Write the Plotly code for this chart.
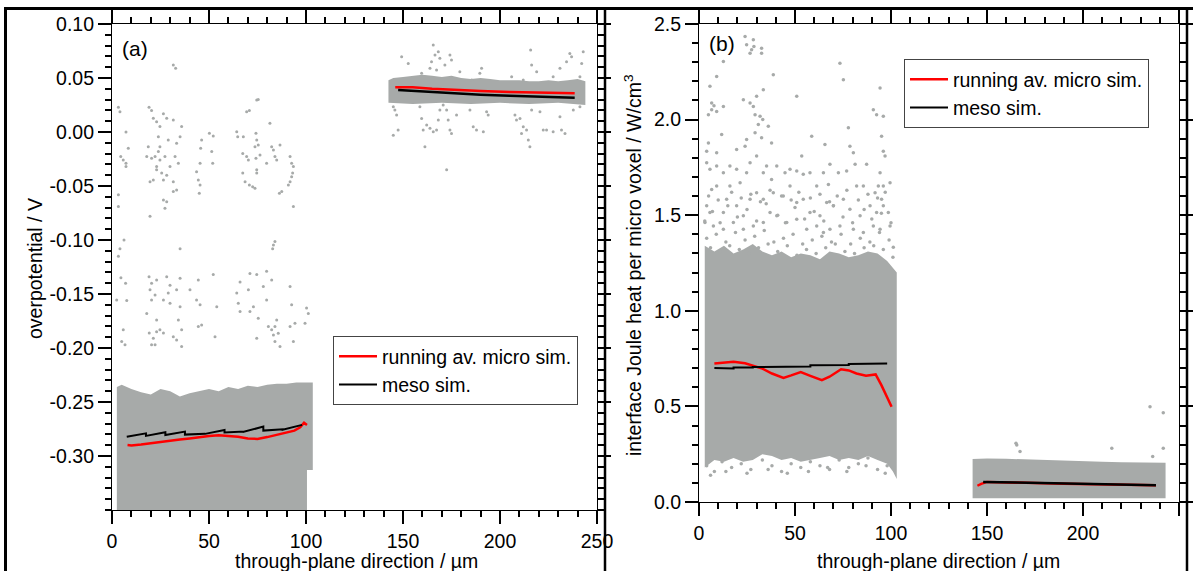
import plotly.graph_objects as go

FONT = "Liberation Sans, Arial, Helvetica, sans-serif"
GRAY = "rgb(167,170,169)"
RED = "rgb(255,0,0)"

# ---------------- panel (a): overpotential ----------------
a1_top_x = [2.5, 5, 10, 15, 20, 25, 30, 35, 40, 45, 50, 55, 60, 65, 70, 75, 80, 85, 90, 95, 100, 103.5]
a1_top_y = [-0.236, -0.234, -0.238, -0.241, -0.243, -0.238, -0.240, -0.245, -0.242, -0.240, -0.238, -0.240, -0.236,
            -0.238, -0.235, -0.236, -0.234, -0.233, -0.233, -0.232, -0.232, -0.232]
a1_bot_x = [103.5, 100.5, 100.5, 97, 2.5]
a1_bot_y = [-0.313, -0.313, -0.36, -0.36, -0.36]
a2_top_x = [142.5, 145, 150, 155, 160, 165, 170, 175, 180, 185, 190, 195, 200, 205, 210, 215, 220, 225, 230, 235, 240, 244]
a2_top_y = [0.048, 0.050, 0.051, 0.052, 0.053, 0.052, 0.051, 0.052, 0.050, 0.049, 0.050, 0.049, 0.048, 0.048, 0.048,
            0.047, 0.047, 0.048, 0.047, 0.048, 0.049, 0.047]
a2_bot_x = [244, 230, 215, 200, 185, 170, 155, 142.5]
a2_bot_y = [0.025, 0.027, 0.026, 0.027, 0.026, 0.027, 0.026, 0.027]

a_pts_x = [3.3, 4.1, 7.2, 4.5, 5.8, 7.2, 8.4, 7.2, 3.3, 3.3, 4.1, 6.2, 3.3, 4.6, 7.0,
           19.1, 20.4, 21.3, 23.0, 23.9, 24.7, 26.5, 28.2, 29.0, 27.3, 24.7, 23.0, 21.3, 19.6, 18.7, 17.9, 20.4, 22.2,
           25.6, 26.5, 28.2, 29.9, 31.6, 32.5, 33.3, 34.2, 35.1, 35.9, 31.6, 33.3, 31.6, 28.2, 26.5, 27.3, 19.6, 23.0,
           24.7, 23.9, 31.6, 32.8, 35.1,
           43.6, 44.5, 45.4, 45.0, 45.4, 46.2, 45.7, 50.2, 52.2, 51.4, 51.9,
           64.3, 64.8, 67.7, 67.4, 69.4, 70.3, 67.4, 68.6, 70.8, 72.5, 73.7, 69.4, 70.8, 74.6, 75.4, 74.2, 74.6, 75.4,
           73.7, 74.2, 74.6, 74.6, 76.3, 79.7, 81.4, 82.3, 83.2, 84.0, 84.9, 86.6, 87.5, 86.3, 91.8, 92.6, 93.5, 93.1,
           92.6, 91.8, 90.9, 93.5, 84.0, 83.2, 82.8,
           2.4, 7.6, 5.8, 6.7, 5.0, 17.9, 19.6, 20.4, 22.2, 23.0, 19.2, 21.3, 23.0, 24.7, 26.5, 20.4, 22.2, 26.5, 29.0,
           29.9, 33.3, 35.1, 34.2, 35.9, 31.6, 33.3, 35.9, 40.2, 43.6, 45.4, 44.5, 46.2, 53.1, 54.0, 64.3, 65.1, 66.0,
           70.3, 71.1, 72.9, 75.4, 74.6, 78.0, 79.7, 80.6, 82.3, 83.2, 84.0, 84.9, 84.0, 85.7, 86.6, 91.8, 92.6, 93.5,
           94.3, 100.3, 101.2, 99.5,
           19.1, 20.4, 23.0, 28.2, 29.9, 35.1, 44.5, 52.2, 66.0, 71.1, 74.6, 79.7, 82.3, 91.8,
           165.6, 164.7, 166.5, 169.0, 168.2, 171.6, 174.2, 175.0, 167.3, 159.6, 152.7, 149.3, 163.9, 189.6, 190.5,
           206.0, 215.8, 216.3, 218.9, 230.9, 234.3, 236.9, 236.0, 242.1, 242.9, 241.2, 227.4, 212.0, 179.3, 185.4,
           145.0, 145.8, 146.7, 147.5, 145.0, 158.7, 159.6, 160.4, 162.2, 163.9, 165.6, 167.3, 168.2, 169.0, 170.7,
           172.5, 174.2, 175.0, 173.3, 177.6, 184.5, 186.2, 187.9, 191.4, 193.1, 193.9, 207.7, 208.5, 210.3, 212.0,
           213.7, 214.6, 215.4, 216.3, 220.6, 222.3, 224.0, 227.4, 230.9, 231.7, 233.5, 237.8, 241.2, 161.3, 172.5,
           211.1]
a_pts_y = [0.023, 0.0188, 0.0, -0.0228, -0.026, -0.029, -0.015, -0.032, -0.058, -0.069, -0.108, -0.100, -0.115,
           -0.135, -0.140,
           0.023, 0.020, 0.0127, 0.0096, -0.0043, 0.005, 0.017, 0.0127, -0.0074, -0.0228, -0.026, -0.032, -0.0444,
           -0.046, -0.0136, -0.0228, -0.0244, -0.0228, -0.038, -0.0444, -0.040, -0.032, -0.046, -0.0228, -0.0105,
           -0.029, -0.0043, 0.005, 0.011, -0.0537, -0.055, -0.0645, -0.063, -0.0707, -0.078, -0.035, -0.0136, -0.018,
           0.062, 0.059, -0.108,
           -0.0367, -0.0444, -0.049, -0.0568, -0.029, -0.0074, -0.015, -0.0012, -0.0037, -0.018, -0.029,
           0.0003, -0.0043, -0.0043, -0.0198, -0.0228, -0.026, -0.038, -0.046, -0.049, -0.0506, -0.052, 0.0188, 0.020,
           0.0296, 0.030, -0.0012, -0.0074, -0.012, -0.0136, -0.0244, -0.035, -0.038, -0.0213, -0.029, 0.008, -0.0136,
           -0.0167, -0.0228, -0.026, -0.012, -0.055, -0.0568, -0.0228, -0.029, -0.032, -0.038, -0.0414, -0.046, -0.049,
           -0.069, -0.1015, -0.1046, -0.108,
           -0.1555, -0.156, -0.183, -0.197, -0.194, -0.168, -0.146, -0.1555, -0.151, -0.174, -0.186, -0.191, -0.185,
           -0.183, -0.186, -0.197, -0.197, -0.1555, -0.149, -0.1586, -0.146, -0.1617, -0.174, -0.183, -0.1895, -0.1925,
           -0.1987, -0.146, -0.1555, -0.160, -0.180, -0.1787, -0.1895, -0.1617, -0.149, -0.1586, -0.1663, -0.146,
           -0.1663, -0.1617, -0.1725, -0.191, -0.143, -0.1555, -0.180, -0.183, -0.188, -0.180, -0.174, -0.194, -0.1864,
           -0.1987, -0.180, -0.160, -0.194, -0.177, -0.163, -0.168, -0.177,
           -0.134, -0.140, -0.137, -0.134, -0.142, -0.1355, -0.137, -0.132, -0.139, -0.131, -0.132, -0.129, -0.137,
           -0.143,
           0.0805, 0.0651, 0.0713, 0.0682, 0.0743, 0.062, 0.0713, 0.0666, 0.0574, 0.0543, 0.0635, 0.0697, 0.059,
           0.0543, 0.059, 0.0512, 0.0759, 0.062, 0.0558, 0.059, 0.0651, 0.0697, 0.0728, 0.0635, 0.0743, 0.0512,
           0.0512, 0.0481, 0.0558, 0.0481,
           0.0234, 0.0203, 0.0157, 0.0018, -0.003, 0.0234, 0.0126, 0.0018, 0.0064, 0.0034, 0.0003, 0.0018, 0.011,
           0.0203, 0.025, 0.0203, 0.0018, -0.0013, 0.011, 0.0157, 0.0203, 0.0049, 0.0018, 0.0003, 0.0188, 0.0157,
           0.0157, 0.011, 0.0126, 0.0049, 0.0018, -0.0074, -0.0136, 0.0203, 0.0188, 0.0018, 0.0018, 0.0003, 0.0142,
           0.0018, -0.0013, 0.0203, 0.0234, -0.0136, -0.035, -0.0013]

a_run1_x = [8, 10, 15, 20, 25, 30, 35, 40, 45, 50, 55, 60, 65, 70, 75, 80, 85, 90, 94, 97, 99, 100.5]
a_run1_y = [-0.2898, -0.2902, -0.2893, -0.2880, -0.2868, -0.2858, -0.2848, -0.2838, -0.2825, -0.2815, -0.2808,
            -0.2812, -0.2822, -0.2838, -0.2842, -0.2825, -0.2805, -0.2783, -0.2765, -0.2735, -0.2692, -0.2712]
a_run2_x = [146, 150, 155, 165, 175, 190, 205, 220, 238.5]
a_run2_y = [0.0414, 0.0416, 0.0414, 0.0400, 0.0390, 0.0380, 0.0370, 0.0364, 0.0358]
a_meso1_x = [7.6, 17.5, 17.5, 27.5, 27.5, 37.6, 37.6, 48, 48, 58, 58, 68, 68, 78, 78, 88, 88, 98]
a_meso1_y = [-0.2821, -0.2790, -0.2814, -0.2780, -0.2806, -0.2774, -0.2802, -0.2795, -0.2795, -0.2759, -0.2783,
             -0.2774, -0.2776, -0.2728, -0.2765, -0.2753, -0.2757, -0.2712]
a_meso2_x = [147.5, 160, 175, 190, 205, 220, 238.5]
a_meso2_y = [0.0389, 0.0375, 0.0360, 0.0345, 0.0335, 0.0325, 0.0318]

# ---------------- panel (b): interface Joule heat ----------------
b1_top_x = [3, 8, 13, 18, 23, 28, 33, 38, 43, 48, 53, 58, 63, 68, 73, 78, 83, 88, 93, 98, 103]
b1_top_y = [1.34, 1.31, 1.34, 1.30, 1.32, 1.35, 1.31, 1.29, 1.31, 1.28, 1.30, 1.29, 1.27, 1.31, 1.30, 1.28, 1.29,
            1.31, 1.30, 1.26, 1.20]
b1_bot_x = [103, 101, 98, 93, 88, 83, 78, 73, 68, 63, 58, 53, 48, 43, 38, 33, 28, 23, 18, 13, 8, 3]
b1_bot_y = [0.12, 0.16, 0.20, 0.22, 0.24, 0.22, 0.23, 0.22, 0.24, 0.23, 0.22, 0.21, 0.23, 0.22, 0.24, 0.25, 0.22,
            0.21, 0.23, 0.21, 0.22, 0.18]
b2_top_x = [142.5, 150, 160, 170, 180, 190, 200, 210, 220, 230, 243]
b2_top_y = [0.225, 0.228, 0.226, 0.222, 0.218, 0.214, 0.212, 0.210, 0.208, 0.206, 0.205]
b2_bot_x = [243, 142.5]
b2_bot_y = [0.02, 0.02]

b_pts_x = [24.0, 24.8, 26.6, 28.3, 27.4, 28.6, 32.6, 32.6, 12.7, 9.2, 5.7, 6.6, 4.9, 6.6, 7.8, 9.2, 12.7, 11.8,
           4.9, 4.0, 9.2, 19.6, 24.0, 24.8, 23.1, 26.6, 28.3, 30.0, 33.5, 29.2, 30.9, 31.8, 33.2, 29.2, 32.6, 36.1,
           37.8, 38.7, 50.9, 58.7, 65.6, 73.4, 75.2, 77.8, 78.6, 80.4, 81.3, 90.8, 92.5, 94.3, 96.0, 95.1, 96.0, 96.9,
           94.3, 93.4, 96.0, 99.5, 101.2, 95.1, 91.7, 87.3, 85.6, 82.1, 76.9, 72.6, 68.2, 67.4, 64.8, 61.3, 57.8,
           53.5, 54.3, 50.9, 47.4, 44.8, 40.5, 37.8, 35.2, 33.5, 30.0, 26.6, 24.8, 21.4, 19.6, 16.1, 12.7, 9.2, 5.7,
           4.0, 6.6, 9.2, 16.1, 14.4, 4.0, 5.7, 12.7, 19.6, 23.1, 26.6, 30.0, 33.5, 38.7, 43.9, 47.4, 50.9, 54.3,
           57.8, 63.0, 66.5, 70.0, 75.2, 78.6, 83.9, 89.1, 92.5, 96.0, 98.6, 99.5, 94.3, 90.8, 85.6, 80.4, 73.4, 68.2,
           64.8, 61.3, 56.1, 50.9, 45.7, 40.5, 37.0, 33.5, 28.3, 23.1, 17.9, 12.7, 7.5, 3.1,
           4, 9, 14, 19, 24, 29, 34, 39, 44, 49, 54, 59, 64, 69, 74, 79, 84, 89, 94, 99,
           6, 11, 16, 21, 26, 31, 36, 41, 46, 51, 56, 61, 66, 71, 76, 81, 86, 91, 96, 101,
           3, 7, 11, 15, 20, 25, 30, 35, 41, 45, 50, 55, 60, 65, 70, 75, 80, 86, 90, 95, 100,
           5, 10, 17, 22, 27, 32, 37, 43, 48, 52, 58, 63, 68, 72, 77, 83, 88, 93, 97,
           4, 8, 12, 17, 22, 27, 33, 38, 43, 48, 53, 58, 63, 68, 73, 78, 83, 88, 93, 98,
           6, 14, 25, 36, 46, 57, 67, 77, 87, 97,
           165.5, 167.2, 215.0, 236.3, 241.8, 234.9, 241.8, 165.1]
b_pts_y = [2.434, 2.391, 2.347, 2.417, 2.365, 2.382, 2.373, 2.347, 2.304, 2.226, 2.174, 2.052, 2.026, 2.087, 2.073,
           2.043, 2.069, 1.922, 1.878, 1.835, 1.826, 1.844, 1.861, 1.896, 2.104, 2.087, 2.069, 2.122, 2.156, 2.026,
           1.974, 2.017, 2.000, 1.931, 1.905, 1.965, 1.878, 2.234, 2.122, 1.913, 1.870, 2.295, 2.208, 1.957, 1.861,
           1.826, 1.766, 2.052, 2.026, 2.165, 2.017, 1.913, 1.835, 1.809, 1.722, 1.653, 1.653, 1.670, 1.332, 1.583,
           1.618, 1.766, 1.653, 1.653, 1.731, 1.722, 1.766, 1.661, 1.722, 1.653, 1.722, 1.809, 1.714, 1.731, 1.740,
           1.722, 1.757, 1.687, 1.757, 1.722, 1.809, 1.774, 1.722, 1.670, 1.740, 1.757, 1.722, 1.757, 1.740, 1.774,
           1.635, 1.653, 1.653, 1.583, 1.549, 1.514, 1.514, 1.549, 1.497, 1.583, 1.618, 1.583, 1.618, 1.601, 1.653,
           1.566, 1.583, 1.514, 1.497, 1.566, 1.549, 1.583, 1.531, 1.497, 1.549, 1.514, 1.549, 1.514, 1.444, 1.427,
           1.444, 1.410, 1.427, 1.444, 1.427, 1.410, 1.444, 1.427, 1.479, 1.462, 1.497, 1.514, 1.462, 1.444, 1.427,
           1.462, 1.427, 1.444, 1.462,
           1.38, 1.40, 1.36, 1.41, 1.37, 1.39, 1.42, 1.36, 1.38, 1.40, 1.35, 1.37, 1.39, 1.36, 1.40, 1.35, 1.38, 1.36,
           1.41, 1.37,
           1.33, 1.31, 1.34, 1.32, 1.30, 1.33, 1.35, 1.31, 1.34, 1.29, 1.32, 1.30, 1.33, 1.35, 1.31, 1.30, 1.33, 1.34,
           1.32, 1.28,
           1.47, 1.52, 1.46, 1.55, 1.49, 1.53, 1.47, 1.56, 1.50, 1.46, 1.54, 1.48, 1.52, 1.47, 1.55, 1.49, 1.46, 1.53,
           1.48, 1.51, 1.46,
           1.60, 1.58, 1.62, 1.59, 1.61, 1.57, 1.63, 1.60, 1.58, 1.62, 1.59, 1.61, 1.57, 1.60, 1.63, 1.58, 1.61, 1.59,
           1.62,
           0.19, 0.16, 0.21, 0.18, 0.20, 0.17, 0.22, 0.19, 0.16, 0.20, 0.18, 0.21, 0.19, 0.17, 0.22, 0.18, 0.20, 0.23,
           0.17, 0.19,
           0.14, 0.16, 0.15, 0.17, 0.15, 0.16, 0.18, 0.16, 0.19, 0.15,
           0.298, 0.264, 0.281, 0.238, 0.281, 0.498, 0.467, 0.307]

b_run1_x = [8, 12, 18, 24, 28, 33, 38, 44, 48, 53, 58, 64, 68, 74, 78, 82, 87, 92, 95, 98, 100.3]
b_run1_y = [0.724, 0.728, 0.733, 0.726, 0.715, 0.698, 0.672, 0.649, 0.662, 0.680, 0.660, 0.637, 0.655, 0.694, 0.688,
            0.672, 0.660, 0.667, 0.611, 0.542, 0.498]
b_run2_x = [145, 147, 150, 160, 175, 190, 210, 225, 238]
b_run2_y = [0.085, 0.095, 0.105, 0.104, 0.099, 0.095, 0.092, 0.089, 0.088]
b_meso1_x = [8, 18, 18, 28, 28, 58, 58, 78, 78, 98]
b_meso1_y = [0.701, 0.698, 0.703, 0.703, 0.706, 0.709, 0.715, 0.717, 0.722, 0.725]
b_meso2_x = [148, 170, 190, 210, 238]
b_meso2_y = [0.105, 0.100, 0.096, 0.092, 0.088]

# ticks
x_ticks = [0, 50, 100, 150, 200, 250]
ya_ticks = [-0.30, -0.25, -0.20, -0.15, -0.10, -0.05, 0.00, 0.05, 0.10]
yb_ticks = [0.0, 0.5, 1.0, 1.5, 2.0, 2.5]

fig = go.Figure()


def band(tx, ty, bx, by, xa, ya):
    fig.add_trace(go.Scatter(x=tx + bx, y=ty + by, fill="toself", fillcolor=GRAY, mode="lines",
                             line=dict(width=0, color=GRAY), xaxis=xa, yaxis=ya, showlegend=False,
                             hoverinfo="skip"))


band(a1_top_x, a1_top_y, a1_bot_x, a1_bot_y, "x", "y")
band(a2_top_x, a2_top_y, a2_bot_x, a2_bot_y, "x", "y")
band(b1_top_x, b1_top_y, b1_bot_x, b1_bot_y, "x2", "y2")
band(b2_top_x, b2_top_y, b2_bot_x, b2_bot_y, "x2", "y2")

fig.add_trace(go.Scatter(x=a_pts_x, y=a_pts_y, mode="markers", marker=dict(size=3, color=GRAY),
                         xaxis="x", yaxis="y", showlegend=False, hoverinfo="skip"))
fig.add_trace(go.Scatter(x=b_pts_x, y=b_pts_y, mode="markers", marker=dict(size=3.5, color=GRAY),
                         xaxis="x2", yaxis="y2", showlegend=False, hoverinfo="skip"))

fig.add_trace(go.Scatter(x=a_run1_x, y=a_run1_y, mode="lines", line=dict(color=RED, width=2.5),
                         name="running av. micro sim.", legend="legend", xaxis="x", yaxis="y"))
fig.add_trace(go.Scatter(x=a_meso1_x, y=a_meso1_y, mode="lines", line=dict(color="black", width=2),
                         name="meso sim.", legend="legend", xaxis="x", yaxis="y"))
fig.add_trace(go.Scatter(x=a_run2_x, y=a_run2_y, mode="lines", line=dict(color=RED, width=2.5),
                         showlegend=False, xaxis="x", yaxis="y"))
fig.add_trace(go.Scatter(x=a_meso2_x, y=a_meso2_y, mode="lines", line=dict(color="black", width=2.5),
                         showlegend=False, xaxis="x", yaxis="y"))
fig.add_trace(go.Scatter(x=b_run1_x, y=b_run1_y, mode="lines", line=dict(color=RED, width=2.5),
                         name="running av. micro sim.", legend="legend2", xaxis="x2", yaxis="y2"))
fig.add_trace(go.Scatter(x=b_meso1_x, y=b_meso1_y, mode="lines", line=dict(color="black", width=2),
                         name="meso sim.", legend="legend2", xaxis="x2", yaxis="y2"))
fig.add_trace(go.Scatter(x=b_run2_x, y=b_run2_y, mode="lines", line=dict(color=RED, width=2.5),
                         showlegend=False, xaxis="x2", yaxis="y2"))
fig.add_trace(go.Scatter(x=b_meso2_x, y=b_meso2_y, mode="lines", line=dict(color="black", width=2.5),
                         showlegend=False, xaxis="x2", yaxis="y2"))

FS = 19.5
tickfont = dict(family=FONT, size=FS, color="black")


def axis(domain, rng, tv, tt, mdt, anchor):
    return dict(domain=domain, range=rng, anchor=anchor, automargin=False, tickmode="array", tickvals=tv,
                ticktext=tt, showline=True, linecolor="black", linewidth=1.2, mirror="allticks", ticks="outside",
                ticklen=13, tickwidth=1.5, tickcolor="black", showgrid=False, zeroline=False, tickfont=tickfont,
                minor=dict(dtick=mdt, ticks="outside", ticklen=6, tickwidth=1.5, tickcolor="black",
                           showgrid=False))


W, H = 1193, 571
legend_style = dict(xanchor="left", yanchor="top", bgcolor="white", bordercolor="#444", borderwidth=1,
                    font=dict(family=FONT, size=FS), tracegroupgap=0, itemwidth=38)
fig.update_layout(
    template="none",
    width=W, height=H, autosize=False, margin=dict(l=0, r=0, t=0, b=0, pad=0),
    paper_bgcolor="white", plot_bgcolor="white",
    font=dict(family=FONT, size=FS, color="black"),
    xaxis=axis([112 / W, 597 / W], [0, 250], x_ticks, [str(v) for v in x_ticks], 10, "y"),
    yaxis=axis([1 - 510 / H, 1 - 24 / H], [-0.35, 0.10], ya_ticks, [f"{v:.2f}" for v in ya_ticks], 0.01, "x"),
    xaxis2=axis([699 / W, 1179 / W], [0, 250], x_ticks, [str(v) for v in x_ticks], 10, "y2"),
    yaxis2=axis([1 - 502 / H, 1 - 24 / H], [0, 2.5], yb_ticks, [f"{v:.1f}" for v in yb_ticks], 0.1, "x2"),
    legend=dict(x=333 / W, y=1 - 336 / H, **legend_style),
    legend2=dict(x=904 / W, y=1 - 59 / H, **legend_style),
    annotations=[
        dict(text="(a)", x=120 / W, y=1 - 48 / H, xref="paper", yref="paper", xanchor="left", yanchor="middle",
             showarrow=False, font=dict(family=FONT, size=21)),
        dict(text="(b)", x=707 / W, y=1 - 44 / H, xref="paper", yref="paper", xanchor="left", yanchor="middle",
             showarrow=False, font=dict(family=FONT, size=21)),
        dict(text="overpotential / V", x=35 / W, y=1 - 269 / H, xref="paper", yref="paper", textangle=-90,
             xanchor="center", yanchor="middle", showarrow=False, font=dict(family=FONT, size=FS)),
        dict(text="interface Joule heat per micro voxel / W/cm<sup>3</sup>", x=633 / W, y=1 - 266 / H,
             xref="paper", yref="paper", textangle=-90, xanchor="center", yanchor="middle", showarrow=False,
             font=dict(family=FONT, size=FS)),
        dict(text="through-plane direction / µm", x=356 / W, y=1 - 561 / H, xref="paper", yref="paper",
             xanchor="center", yanchor="middle", showarrow=False, font=dict(family=FONT, size=FS)),
        dict(text="through-plane direction / µm", x=938 / W, y=1 - 561 / H, xref="paper", yref="paper",
             xanchor="center", yanchor="middle", showarrow=False, font=dict(family=FONT, size=FS)),
    ],
    shapes=[
        dict(type="line", xref="paper", yref="paper", x0=4 / W, x1=1, y0=1 - 8.5 / H, y1=1 - 8.5 / H,
             line=dict(color="black", width=3)),
        dict(type="line", xref="paper", yref="paper", x0=5.5 / W, x1=5.5 / W, y0=0, y1=1 - 8.5 / H,
             line=dict(color="black", width=3)),
        dict(type="line", xref="paper", yref="paper", x0=605 / W, x1=605 / W, y0=0, y1=1 - 8.5 / H,
             line=dict(color="black", width=2.5)),
        dict(type="line", xref="paper", yref="paper", x0=1187 / W, x1=1187 / W, y0=0, y1=1 - 8.5 / H,
             line=dict(color="black", width=2.5)),
    ],
)

fig.write_html("out.html", config={"displayModeBar": False},
               post_script="document.body.style.margin='0';document.body.style.overflow='hidden';")
